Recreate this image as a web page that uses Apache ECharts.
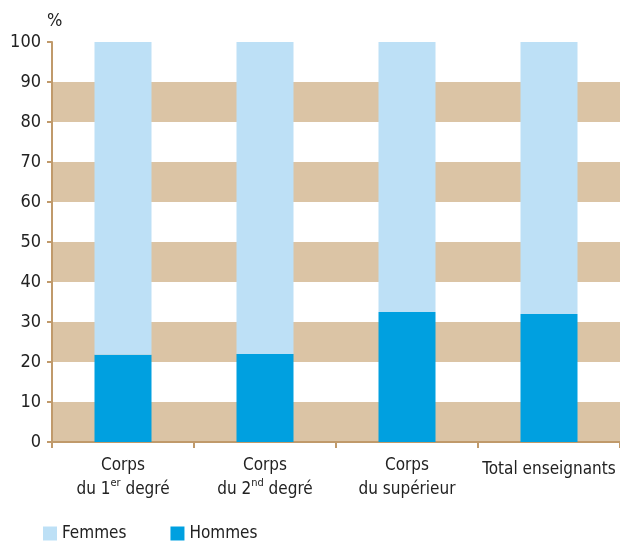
<!DOCTYPE html>
<html>
<head>
<meta charset="utf-8">
<script src="https://cdn.jsdelivr.net/npm/echarts@6/dist/echarts.min.js"></script>
<style>
  html, body { margin: 0; padding: 0; background: #fff; }
  #chart { width: 620px; height: 544px; }
</style>
</head>
<body>
<div id="chart"></div>
<script>
// categories (rich text keys: sup = superscript)
var categories = ['Corps\ndu 1{sup|er} degré', 'Corps\ndu 2{sup|nd} degré', 'Corps\ndu supérieur', '{one|Total enseignants}'];
var hommes = [21.8, 22.0, 32.5, 32.0];
var femmes = [78.2, 78.0, 67.5, 68.0];
var yTicks = [0, 10, 20, 30, 40, 50, 60, 70, 80, 90, 100];

var font = '"DejaVu Sans Condensed", "Liberation Sans Narrow", sans-serif';
var tan = '#dbc4a5';
var axisTan = '#c09a6b';

var myChart = echarts.init(document.getElementById('chart'));

var option = {
  animation: false,
  textStyle: { fontFamily: font },
  grid: { left: 52, right: 0, top: 42, bottom: 102 },
  title: {
    text: '%',
    left: 42,
    top: 7,
    textStyle: { fontFamily: font, fontSize: 18, fontWeight: 'normal', color: '#222' }
  },
  legend: {
    left: 38,
    bottom: -3,
    icon: 'rect',
    itemWidth: 14,
    itemHeight: 14,
    itemGap: 44,
    textStyle: { fontFamily: font, fontSize: 17, color: '#222' },
    data: ['Femmes', 'Hommes']
  },
  xAxis: {
    type: 'category',
    data: categories,
    axisLine: { lineStyle: { color: axisTan, width: 2 } },
    axisTick: { show: true, length: 6, lineStyle: { color: axisTan, width: 2 } },
    axisLabel: {
      fontFamily: font,
      fontSize: 17,
      color: '#222',
      lineHeight: 24,
      margin: 12,
      interval: 0,
      rich: {
        sup: { fontSize: 11, verticalAlign: 'top', lineHeight: 24, padding: [0, 0, 7, 0], color: '#222' },
        one: { fontSize: 17, padding: [8, 0, 0, 0], color: '#222' }
      }
    }
  },
  yAxis: {
    type: 'value',
    min: yTicks[0],
    max: yTicks[yTicks.length - 1],
    interval: 10,
    axisLine: { show: true, lineStyle: { color: axisTan, width: 2 } },
    axisTick: { show: true, length: 5, lineStyle: { color: axisTan, width: 2 } },
    axisLabel: { fontFamily: font, fontSize: 18, color: '#222', margin: 11 },
    splitLine: { show: false },
    splitArea: { show: true, areaStyle: { color: [tan, '#ffffff'] } }
  },
  series: [
    {
      name: 'Hommes',
      type: 'bar',
      stack: 'total',
      barWidth: 57,
      data: hommes,
      itemStyle: { color: '#00a0e0' }
    },
    {
      name: 'Femmes',
      type: 'bar',
      stack: 'total',
      barWidth: 57,
      data: femmes,
      itemStyle: { color: '#bde0f6' }
    }
  ]
};

myChart.setOption(option);
</script>
</body>
</html>
